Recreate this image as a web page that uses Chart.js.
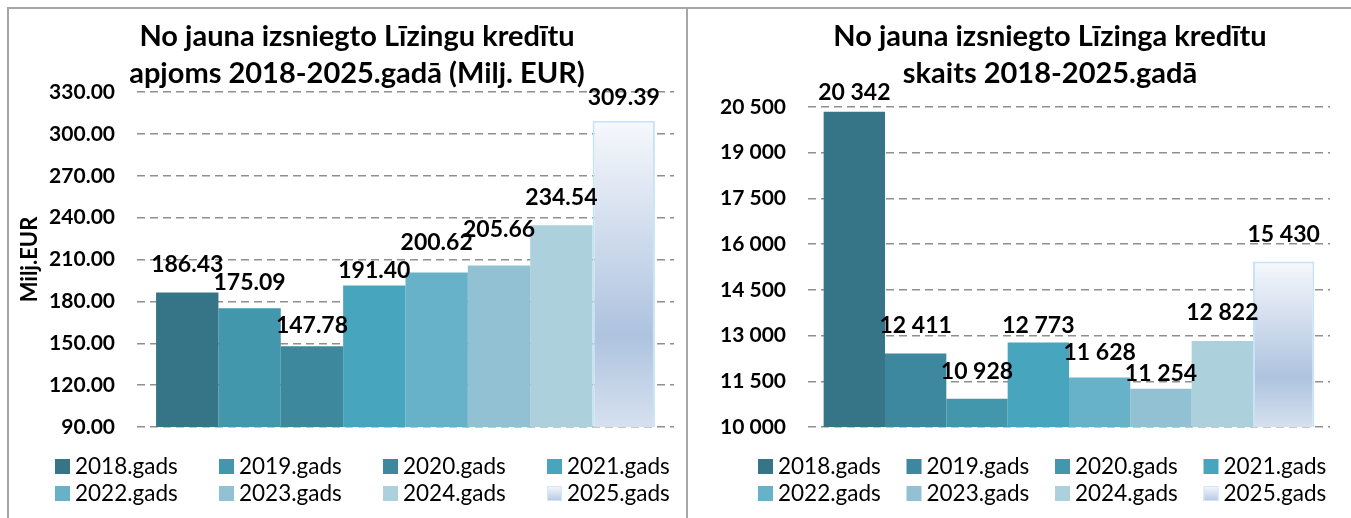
<!DOCTYPE html>
<html>
<head>
<meta charset="utf-8">
<script src="https://cdn.jsdelivr.net/npm/chart.js@4.4.0/dist/chart.umd.min.js"></script>
<style>
  html, body { margin: 0; padding: 0; background: #fff; overflow: hidden; }
  #frame { position: absolute; left: 7px; top: 7px; width: 1344px; height: 511px;
           border-top: 2px solid #a6a6a6; border-left: 2px solid #a6a6a6; }
  #divider { position: absolute; left: 686px; top: 7px; width: 2px; height: 511px; background: #a6a6a6; }
  canvas { position: absolute; top: 9px; }
  #volumeChart { left: 9px; }
  #countChart { left: 689px; }
</style>
</head>
<body>
<div id="frame"></div>
<div id="divider"></div>
<canvas id="volumeChart" width="677" height="509"></canvas>
<canvas id="countChart" width="662" height="509"></canvas>
<script>
// data
var seriesNames = ['2018.gads', '2019.gads', '2020.gads', '2021.gads', '2022.gads', '2023.gads', '2024.gads', '2025.gads'];
var volumeValues = [186.43, 175.09, 147.78, 191.40, 200.62, 205.66, 234.54, 309.39];
var countValues = [20342, 12411, 10928, 12773, 11628, 11254, 12822, 15430];
var volumeTicks = [90, 120, 150, 180, 210, 240, 270, 300, 330];
var countTicks = [10000, 11500, 13000, 14500, 16000, 17500, 19000, 20500];
var volumeTitle = ['No jauna izsniegto Līzingu kredītu', 'apjoms 2018-2025.gadā (Milj. EUR)'];
var countTitle = ['No jauna izsniegto Līzinga kredītu', 'skaits 2018-2025.gadā'];

var volumeColors = ['#357587', '#4297ad', '#3d889d', '#48a5be', '#68b2c9', '#91c1d2', '#acd1dc'];
var countColors = ['#357587', '#3d889e', '#4297ad', '#48a5be', '#68b2c9', '#91c1d2', '#acd1dc'];
var FONT = 'Lato';

function spaced(v) {
  return String(v).replace(/\B(?=(\d{3})+(?!\d))/g, ' ');
}

function lastBarFill(context) {
  var chart = context.chart;
  var area = chart.chartArea;
  if (!area || context.raw === undefined) return '#c5d5ea';
  var top = chart.scales.y.getPixelForValue(context.raw);
  var g = chart.ctx.createLinearGradient(0, top, 0, area.bottom);
  g.addColorStop(0, '#f6f8fc');
  g.addColorStop(0.7, '#aec3df');
  g.addColorStop(1, '#d6e1ef');
  return g;
}

function makeDatasets(values, colors, catPct) {
  return values.map(function(v, i) {
    var last = i === values.length - 1;
    return {
      label: seriesNames[i],
      data: [v],
      backgroundColor: last ? lastBarFill : colors[i],
      borderColor: last ? '#c6e4f6' : colors[i],
      borderWidth: last ? 2 : 0,
      categoryPercentage: catPct,
      barPercentage: 1
    };
  });
}

// two-line bold title, placed by hand like the excel one
var twoLineTitle = {
  id: 'twoLineTitle',
  afterDraw: function(chart, args, o) {
    var ctx = chart.ctx;
    ctx.save();
    ctx.font = 'bold 29px ' + FONT;
    ctx.fillStyle = '#000';
    ctx.textAlign = 'center';
    ctx.textBaseline = 'middle';
    o.lines.forEach(function(line, i) {
      ctx.fillText(line, o.x, o.y + i * o.lineGap);
    });
    ctx.restore();
  }
};

// value over each bar
var valueLabels = {
  id: 'valueLabels',
  afterDatasetsDraw: function(chart, args, o) {
    var ctx = chart.ctx;
    ctx.save();
    ctx.font = 'bold 23px ' + FONT;
    ctx.fillStyle = '#000';
    ctx.textAlign = 'center';
    ctx.textBaseline = 'middle';
    chart.data.datasets.forEach(function(ds, i) {
      var bar = chart.getDatasetMeta(i).data[0];
      ctx.fillText(o.format(ds.data[0]), bar.x, bar.y - o.lift[i]);
    });
    ctx.restore();
  }
};

// legend in a 4 x 2 grid
var gridLegend = {
  id: 'gridLegend',
  afterDraw: function(chart, args, o) {
    var ctx = chart.ctx;
    ctx.save();
    ctx.font = '22.5px ' + FONT;
    ctx.textAlign = 'left';
    ctx.textBaseline = 'middle';
    chart.data.datasets.forEach(function(ds, i) {
      var x = o.x + (i % 4) * o.colWidth;
      var y = o.y + Math.floor(i / 4) * o.rowHeight;
      var fill = ds.backgroundColor;
      var gradient = typeof fill === 'function';
      if (gradient) {
        fill = ctx.createLinearGradient(0, y - 7, 0, y + 8);
        fill.addColorStop(0, '#f6f8fc');
        fill.addColorStop(1, '#b4c7e2');
      }
      ctx.fillStyle = fill;
      ctx.fillRect(x, y - 7, 15, 15);
      if (gradient) {
        ctx.strokeStyle = '#d2e8f7';
        ctx.lineWidth = 1;
        ctx.strokeRect(x + 0.5, y - 6.5, 14, 14);
      }
      ctx.fillStyle = '#000';
      ctx.fillText(ds.label, x + 20, y + 1);
    });
    ctx.restore();
  }
};

function buildChart(id, cfg) {
  var ticks = cfg.ticks;
  return new Chart(document.getElementById(id), {
    type: 'bar',
    data: { labels: [''], datasets: makeDatasets(cfg.values, cfg.colors, cfg.catPct) },
    plugins: [twoLineTitle, valueLabels, gridLegend],
    options: {
      responsive: false,
      animation: false,
      devicePixelRatio: 1,
      layout: { padding: cfg.padding },
      scales: {
        x: { display: false },
        y: {
          min: ticks[0],
          max: ticks[ticks.length - 1],
          afterFit: function(scale) { scale.width = cfg.axisWidth; },
          border: { display: false, dash: [8, 5] },
          grid: { color: '#8f8f8f', lineWidth: 1.5, drawTicks: false },
          ticks: {
            stepSize: ticks[1] - ticks[0],
            padding: 22,
            color: '#000',
            font: { family: FONT, size: 21, weight: 'bold' },
            callback: cfg.tickFormat
          },
          title: cfg.axisTitle
        }
      },
      plugins: {
        legend: { display: false },
        title: { display: false },
        tooltip: { enabled: false },
        twoLineTitle: { lines: cfg.title, x: cfg.titleX, y: 28, lineGap: 37 },
        valueLabels: { format: cfg.tickFormat, lift: cfg.lift },
        gridLegend: { x: cfg.legendX, y: 457, colWidth: cfg.legendCol, rowHeight: 27 }
      }
    }
  });
}

buildChart('volumeChart', {
  values: volumeValues,
  colors: volumeColors,
  ticks: volumeTicks,
  title: volumeTitle,
  titleX: 348,
  catPct: 0.929,
  axisWidth: 128,
  padding: { left: 0, right: 12, top: 83, bottom: 91 },
  tickFormat: function(v) { return Number(v).toFixed(2); },
  axisTitle: { display: true, text: 'Milj.EUR', color: '#000',
               font: { family: FONT, size: 22, weight: 'bold' }, padding: { top: 8, bottom: 0 } },
  lift: [28, 26, 21, 15, 30, 36, 28, 23],
  legendX: 46,
  legendCol: 164
});

buildChart('countChart', {
  values: countValues,
  colors: countColors,
  ticks: countTicks,
  title: countTitle,
  titleX: 361,
  catPct: 0.94,
  axisWidth: 119,
  padding: { left: 0, right: 21, top: 98, bottom: 91 },
  tickFormat: function(v) { return spaced(v); },
  axisTitle: { display: false },
  lift: [19, 28, 27, 17, 25, 15, 28, 27],
  legendX: 69,
  legendCol: 148.5
});
</script>
</body>
</html>
